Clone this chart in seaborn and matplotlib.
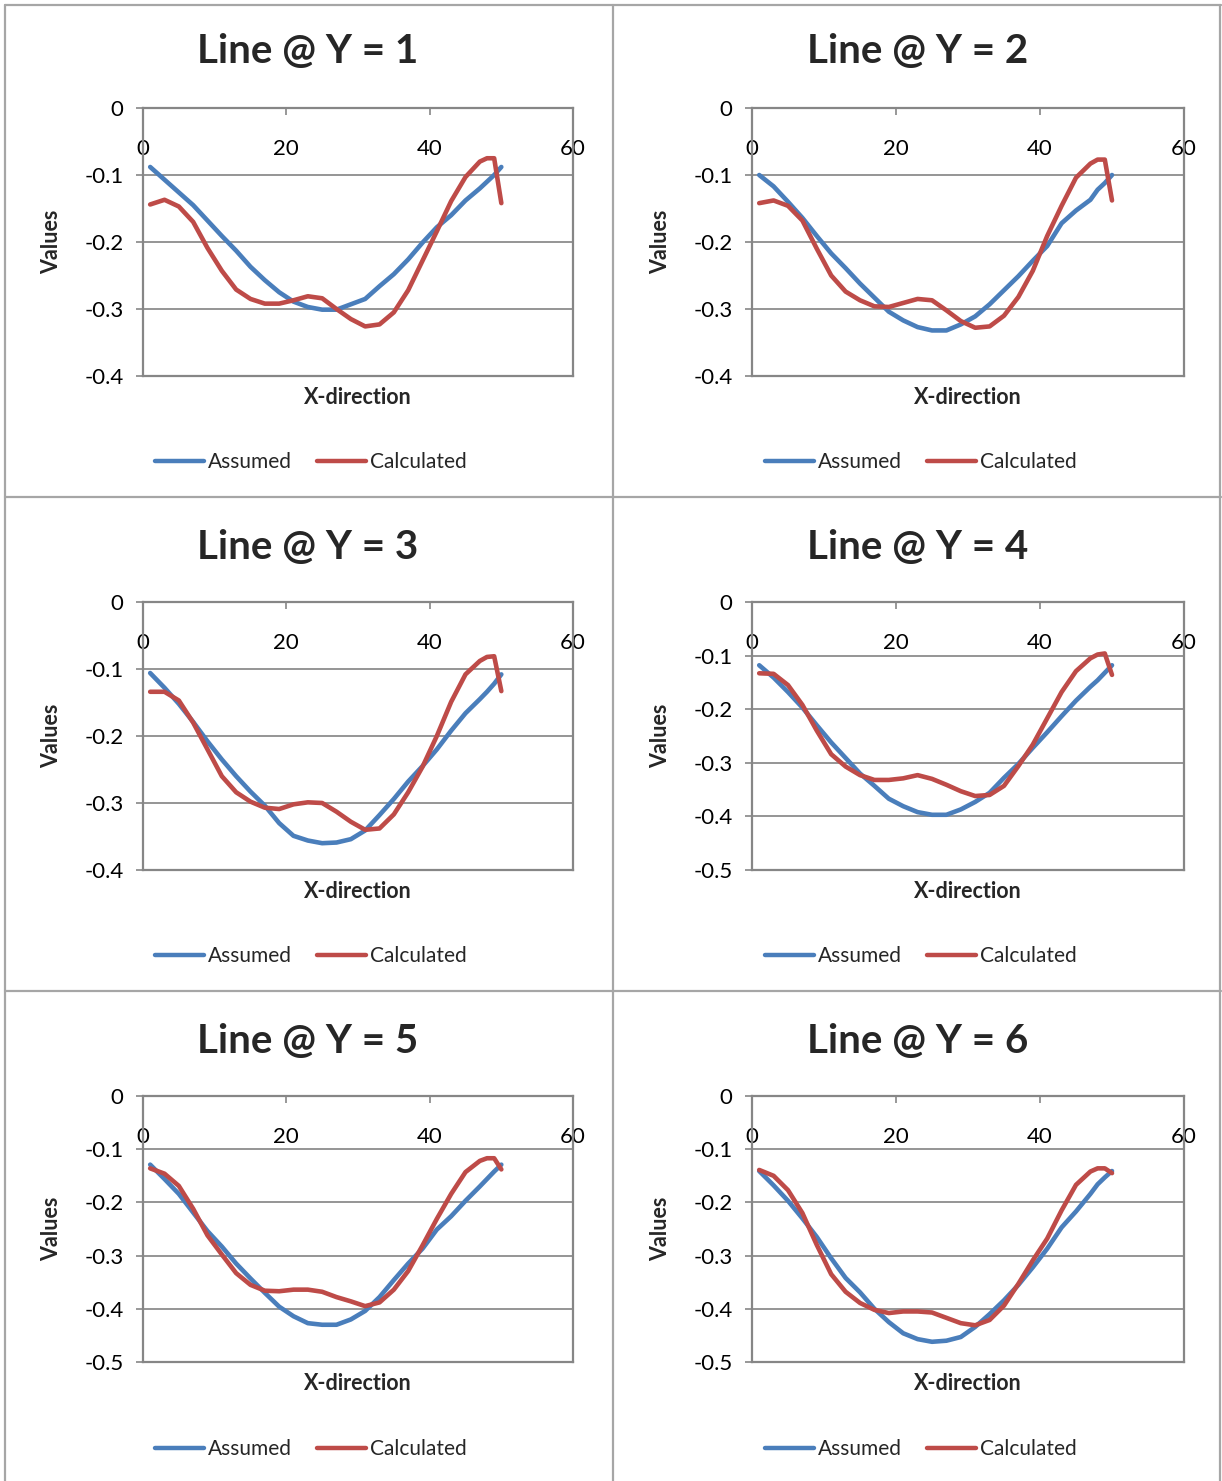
import numpy as np
import pandas as pd
import matplotlib
matplotlib.use("Agg")
import matplotlib.pyplot as plt
import seaborn as sns
from matplotlib.lines import Line2D
from matplotlib.ticker import FuncFormatter

# ---------------- data ----------------
x_pos = [1, 3, 5, 7, 9, 11, 13, 15, 17, 19, 21, 23, 25, 27, 29, 31, 33, 35, 37,
         39, 41, 43, 45, 47, 48, 49, 50]

assumed_1 = [-0.088, -0.107, -0.126, -0.145, -0.168, -0.191, -0.213, -0.237, -0.257,
             -0.275, -0.289, -0.297, -0.301, -0.301, -0.293, -0.285, -0.266, -0.248,
             -0.226, -0.201, -0.178, -0.160, -0.138, -0.120, -0.110, -0.100, -0.088]
calculated_1 = [-0.144, -0.137, -0.147, -0.170, -0.209, -0.243, -0.271, -0.285, -0.292,
                -0.292, -0.287, -0.281, -0.284, -0.300, -0.315, -0.326, -0.323, -0.305,
                -0.272, -0.228, -0.184, -0.139, -0.103, -0.080, -0.075, -0.075, -0.142]

assumed_2 = [-0.100, -0.117, -0.140, -0.164, -0.191, -0.217, -0.239, -0.262, -0.283,
             -0.304, -0.317, -0.327, -0.332, -0.332, -0.323, -0.311, -0.293, -0.272,
             -0.251, -0.228, -0.206, -0.172, -0.153, -0.137, -0.122, -0.112, -0.100]
calculated_2 = [-0.142, -0.138, -0.146, -0.168, -0.210, -0.250, -0.274, -0.287, -0.296,
                -0.297, -0.291, -0.285, -0.287, -0.302, -0.318, -0.328, -0.326, -0.310,
                -0.282, -0.243, -0.191, -0.146, -0.104, -0.083, -0.077, -0.077, -0.138]

assumed_3 = [-0.106, -0.128, -0.152, -0.179, -0.208, -0.235, -0.260, -0.283, -0.304,
             -0.330, -0.349, -0.356, -0.360, -0.359, -0.354, -0.341, -0.318, -0.294,
             -0.268, -0.245, -0.220, -0.192, -0.166, -0.145, -0.134, -0.122, -0.108]
calculated_3 = [-0.134, -0.134, -0.147, -0.180, -0.220, -0.260, -0.284, -0.298, -0.307,
                -0.309, -0.302, -0.299, -0.300, -0.313, -0.328, -0.340, -0.338, -0.317,
                -0.284, -0.246, -0.200, -0.149, -0.108, -0.088, -0.082, -0.081, -0.133]

assumed_4 = [-0.118, -0.141, -0.168, -0.197, -0.230, -0.262, -0.291, -0.320, -0.343,
             -0.367, -0.381, -0.392, -0.397, -0.397, -0.387, -0.373, -0.356, -0.328,
             -0.302, -0.272, -0.243, -0.213, -0.184, -0.158, -0.146, -0.132, -0.118]
calculated_4 = [-0.133, -0.134, -0.155, -0.192, -0.240, -0.284, -0.307, -0.323, -0.332,
                -0.332, -0.329, -0.323, -0.330, -0.341, -0.353, -0.362, -0.360, -0.343,
                -0.306, -0.266, -0.217, -0.168, -0.129, -0.105, -0.098, -0.096, -0.136]

assumed_5 = [-0.129, -0.156, -0.184, -0.219, -0.254, -0.283, -0.315, -0.343, -0.370,
             -0.396, -0.414, -0.427, -0.430, -0.430, -0.420, -0.404, -0.378, -0.346,
             -0.315, -0.287, -0.251, -0.226, -0.197, -0.170, -0.156, -0.142, -0.129]
calculated_5 = [-0.136, -0.146, -0.169, -0.212, -0.262, -0.298, -0.333, -0.355, -0.366,
                -0.367, -0.364, -0.364, -0.368, -0.378, -0.386, -0.395, -0.388, -0.364,
                -0.329, -0.281, -0.231, -0.184, -0.143, -0.122, -0.117, -0.117, -0.138]

assumed_6 = [-0.141, -0.168, -0.197, -0.230, -0.265, -0.305, -0.342, -0.369, -0.400,
             -0.425, -0.446, -0.457, -0.462, -0.460, -0.453, -0.434, -0.410, -0.384,
             -0.355, -0.322, -0.287, -0.247, -0.217, -0.184, -0.166, -0.153, -0.141]
calculated_6 = [-0.139, -0.150, -0.177, -0.220, -0.280, -0.335, -0.368, -0.389, -0.402,
                -0.408, -0.405, -0.405, -0.407, -0.417, -0.427, -0.431, -0.421, -0.394,
                -0.353, -0.309, -0.268, -0.215, -0.167, -0.142, -0.136, -0.136, -0.145]

titles = ["Line @ Y = 1", "Line @ Y = 2", "Line @ Y = 3",
          "Line @ Y = 4", "Line @ Y = 5", "Line @ Y = 6"]
series_names = ["Assumed", "Calculated"]
x_ticks = [0, 20, 40, 60]
y_ticks_04 = [0, -0.1, -0.2, -0.3, -0.4]
y_ticks_05 = [0, -0.1, -0.2, -0.3, -0.4, -0.5]

assumed_all = [assumed_1, assumed_2, assumed_3, assumed_4, assumed_5, assumed_6]
calculated_all = [calculated_1, calculated_2, calculated_3,
                  calculated_4, calculated_5, calculated_6]
y_ticks_all = [y_ticks_04, y_ticks_04, y_ticks_04, y_ticks_05, y_ticks_05, y_ticks_05]

# ---------------- style ----------------
sns.set_theme(style="white")
plt.rcParams["font.family"] = ["Lato", "DejaVu Sans"]
plt.rcParams["axes.unicode_minus"] = False

BLUE = "#4A7EBB"
RED = "#BE4B48"
AXC = "#868686"
GRIDC = "#8C8C8C"
DIVC = "#A6A6A6"

W, H = 1222, 1481
fig = plt.figure(figsize=(W / 100, H / 100), dpi=100)


def rect(l, t, r, b):
    return [l / W, 1 - b / H, (r - l) / W, (b - t) / H]


cols = [(143, 573), (752, 1184)]
rows = [(108, 376), (602, 870), (1096, 1362)]
title_y = [52, 547, 1042]
title_x = [308, 918]
ylab_x = [52, 661]
legend_y = [462, 956, 1449]
legend_x = [311, 921]

fmt = FuncFormatter(lambda v, p: "0" if abs(v) < 1e-9 else f"{v:.1f}")

for i in range(6):
    r, c = divmod(i, 2)
    l, rr = cols[c]
    t, b = rows[r]
    ax = fig.add_axes(rect(l, t, rr, b))
    n = len(x_pos)
    df = pd.DataFrame({
        "x": x_pos + x_pos,
        "val": assumed_all[i] + calculated_all[i],
        "series": [series_names[0]] * n + [series_names[1]] * n,
    })
    sns.lineplot(data=df, x="x", y="val", hue="series",
                 palette={series_names[0]: BLUE, series_names[1]: RED},
                 linewidth=3.3, ax=ax, legend=False, estimator=None,
                 clip_on=False, solid_joinstyle="round", solid_capstyle="round")
    yt = y_ticks_all[i]
    ax.set_xlim(0, 60)
    ax.set_ylim(min(yt), 0)
    ax.set_xticks(x_ticks)
    ax.set_yticks(yt)
    ax.yaxis.set_major_formatter(fmt)
    ax.xaxis.tick_top()
    ax.tick_params(axis="x", direction="in", length=5, width=1.2, pad=-37,
                   labelsize=16, color=AXC, labelcolor="black")
    ax.tick_params(axis="y", direction="out", length=5, width=1.2, pad=9,
                   labelsize=16, color=AXC, labelcolor="black", left=True)
    ax.grid(axis="y", color=GRIDC, linewidth=1.3)
    ax.grid(axis="x", visible=False)
    ax.set_axisbelow(True)
    for s in ax.spines.values():
        s.set_color(AXC)
        s.set_linewidth(1.6)
        s.set_visible(True)
    ax.set_xlabel("X-direction", fontsize=15.5, fontweight="bold", labelpad=8)
    ax.xaxis.set_label_position("bottom")
    ax.set_ylabel("Values", fontsize=15.5, fontweight="bold")
    ax.yaxis.label.set_va("center")
    ax.yaxis.set_label_coords((ylab_x[c] - l) / (rr - l), 0.5)

    fig.text(title_x[c] / W, 1 - title_y[r] / H, titles[i], ha="center",
             va="center", fontsize=29, fontweight="bold")

    handles = [Line2D([], [], color=BLUE, lw=3.2),
               Line2D([], [], color=RED, lw=3.2)]
    fig.legend(handles, series_names, loc="center",
               bbox_to_anchor=(legend_x[c] / W, 1 - legend_y[r] / H),
               ncol=2, frameon=False, fontsize=15, handlelength=2.35,
               handletextpad=0.2, columnspacing=1.2)

# panel dividers / outer frame
def hline(y, x0, x1):
    fig.add_artist(Line2D([x0 / W, x1 / W], [1 - y / H, 1 - y / H],
                          color=DIVC, lw=1.6, transform=fig.transFigure))


def vline(x, y0, y1):
    fig.add_artist(Line2D([x / W, x / W], [1 - y0 / H, 1 - y1 / H],
                          color=DIVC, lw=1.6, transform=fig.transFigure))


hline(5, 5, 1221)
hline(497, 5, 1221)
hline(991, 5, 1221)
vline(5, 5, H)
vline(613, 5, H)
vline(1220, 5, H)

fig.savefig("out.png", dpi=100)
